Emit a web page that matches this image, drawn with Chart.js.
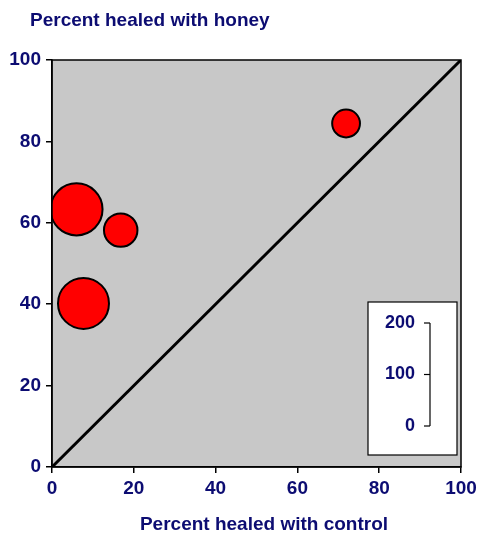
<!DOCTYPE html>
<html>
<head>
  <title>Percent healed: honey vs control</title>
  <script src="https://cdn.jsdelivr.net/npm/chart.js"></script>
  <style>
    body { margin: 0; background: #fff; }
    #wrap { width: 479px; height: 535px; }
  </style>
</head>
<body>
  <div id="wrap"><canvas id="healChart" width="479" height="535"></canvas></div>

  <script>
    // study results
    const controlPct = [6, 7.7, 16.8, 71.9];
    const honeyPct = [63.3, 40.2, 58.2, 84.4];
    const sampleSize = [101, 99, 65, 54];

    const axisTicks = [0, 20, 40, 60, 80, 100];
    const sizeScaleTicks = [0, 100, 200];
    const equalityLine = [0, 100];

    const navy = '#0c0c72';
    const tickFont = { family: 'Liberation Sans, Arial, sans-serif', size: 19, weight: 'bold' };
    const titleFont = 'bold 19px Liberation Sans, Arial, sans-serif';

    // pixels of diameter per unit of sample size (same as the size key)
    const pxPerUnit = 103 / 200;

    const bubbles = controlPct.map((x, i) => ({ x: x, y: honeyPct[i], n: sampleSize[i] }));

    // gray plot area, frame, axis titles and size key
    const decor = {
      id: 'decor',
      beforeDraw(chart) {
        const { ctx, chartArea: a } = chart;
        ctx.save();
        ctx.fillStyle = '#c8c8c8';
        ctx.fillRect(a.left, a.top, a.right - a.left, a.bottom - a.top);
        ctx.restore();
      },
      afterDraw(chart) {
        const { ctx, chartArea: a } = chart;
        ctx.save();
        ctx.strokeStyle = '#000';
        ctx.lineWidth = 1.5;
        ctx.strokeRect(a.left, a.top, a.right - a.left, a.bottom - a.top);

        ctx.fillStyle = navy;
        ctx.font = titleFont;
        ctx.textBaseline = 'middle';
        ctx.textAlign = 'left';
        ctx.fillText('Percent healed with honey', 30, 21);
        ctx.textAlign = 'center';
        ctx.fillText('Percent healed with control', 264, 525);

        // size key box
        const bx = 368, by = 302, bw = 89, bh = 153;
        ctx.fillStyle = '#fff';
        ctx.fillRect(bx, by, bw, bh);
        ctx.strokeStyle = '#000';
        ctx.lineWidth = 1.2;
        ctx.strokeRect(bx, by, bw, bh);

        const barX = 430, base = 426;
        const maxV = sizeScaleTicks[sizeScaleTicks.length - 1];
        const top = base - maxV * pxPerUnit;
        ctx.beginPath();
        ctx.moveTo(barX, top);
        ctx.lineTo(barX, base);
        ctx.stroke();
        ctx.font = 'bold 18px Liberation Sans, Arial, sans-serif';
        ctx.textAlign = 'right';
        ctx.fillStyle = navy;
        sizeScaleTicks.forEach(v => {
          const y = base - v * pxPerUnit;
          ctx.beginPath();
          ctx.moveTo(barX - 6, y);
          ctx.lineTo(barX, y);
          ctx.stroke();
          ctx.fillText(String(v), barX - 15, y);
        });
        ctx.restore();
      }
    };

    const ctx = document.getElementById('healChart').getContext('2d');
    new Chart(ctx, {
      type: 'bubble',
      data: {
        datasets: [{
          type: 'line',
          data: equalityLine.map(v => ({ x: v, y: v })),
          borderColor: '#000',
          borderWidth: 3,
          pointRadius: 0,
          fill: false,
          order: 2
        }, {
          data: bubbles,
          backgroundColor: '#ff0000',
          borderColor: '#000',
          borderWidth: 2,
          radius: c => c.raw ? c.raw.n * pxPerUnit / 2 : 0,
          order: 1
        }]
      },
      options: {
        responsive: false,
        animation: false,
        layout: { autoPadding: false, padding: { top: 60, right: 18, left: 0, bottom: 0 } },
        plugins: { legend: { display: false }, tooltip: { enabled: false } },
        scales: {
          x: {
            type: 'linear',
            min: 0, max: 100,
            afterFit: s => { s.height = 68; s.paddingLeft = 0; s.paddingRight = 0; },
            afterBuildTicks: s => { s.ticks = axisTicks.map(v => ({ value: v })); },
            grid: { drawOnChartArea: false, color: '#000', tickLength: 6, lineWidth: 1.5 },
            border: { color: '#000', width: 1.5 },
            ticks: { color: navy, font: tickFont, padding: 4, maxRotation: 0 }
          },
          y: {
            type: 'linear',
            min: 0, max: 100,
            afterFit: s => { s.width = 52; s.paddingTop = 0; s.paddingBottom = 0; },
            afterBuildTicks: s => { s.ticks = axisTicks.map(v => ({ value: v })); },
            grid: { drawOnChartArea: false, color: '#000', tickLength: 6, lineWidth: 1.5 },
            border: { color: '#000', width: 1.5 },
            ticks: { color: navy, font: tickFont, padding: 5 }
          }
        }
      },
      plugins: [decor]
    });
  </script>
</body>
</html>
